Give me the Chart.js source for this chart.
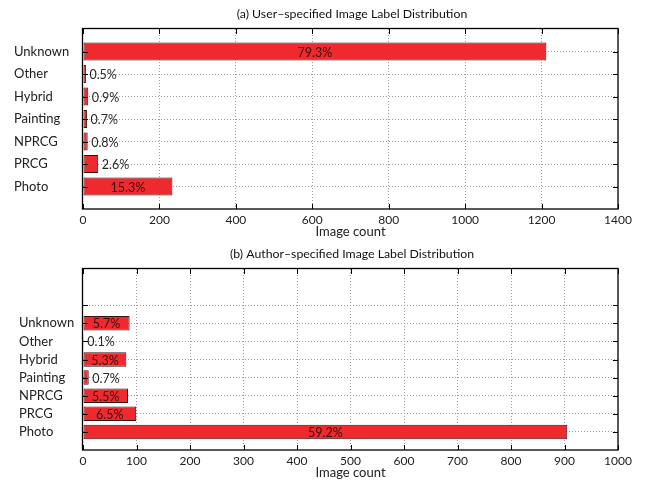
<!DOCTYPE html>
<html>
<head>
<meta charset="utf-8">
<script src="https://cdn.jsdelivr.net/npm/chart.js@4/dist/chart.umd.min.js"></script>
<style>
  html, body { margin: 0; padding: 0; background: #fff; }
  #wrap { position: relative; width: 648px; height: 484px; }
  .panel { position: absolute; left: 0; width: 648px; height: 242px; }
</style>
</head>
<body>
<div id="wrap">
  <div class="panel" style="top:0px"><canvas id="userChart" width="648" height="242"></canvas></div>
  <div class="panel" style="top:241px"><canvas id="authorChart" width="648" height="242"></canvas></div>
</div>
<script>
// Image label categories, listed top to bottom
const categories = ['Unknown', 'Other', 'Hybrid', 'Painting', 'NPRCG', 'PRCG', 'Photo'];
// Share of images per label (%)
const userPercent = [79.3, 0.5, 0.9, 0.7, 0.8, 2.6, 15.3];
const authorPercent = [5.7, 0.1, 5.3, 0.7, 5.5, 6.5, 59.2];
// Number of images in the collection
const totalImages = 1529;
// Count axis ticks
const userTicks = [0, 200, 400, 600, 800, 1000, 1200, 1400];
const authorTicks = [0, 100, 200, 300, 400, 500, 600, 700, 800, 900, 1000];

const FONT = 'Lato';
const GRID = '#9c9c9c';

function makePanel(canvasId, opt) {
  const labels = [...Array(opt.blankAbove).fill(''), ...categories, ''];
  const counts = opt.percent.map(p => p / 100 * totalImages);
  const data = [...Array(opt.blankAbove).fill(null), ...counts, null];
  const pctText = [...Array(opt.blankAbove).fill(null), ...opt.percent.map(p => p.toFixed(1) + '%'), null];
  const firstGrid = opt.blankAbove - opt.griddedBlank;
  const lastGrid = labels.length - 2;
  const ticks = opt.ticks;

  const panelPlugin = {
    id: 'panelDecor',
    afterDatasetsDraw(chart) {
      const ctx = chart.ctx;
      const meta = chart.getDatasetMeta(0);
      ctx.save();
      ctx.font = '12.5px ' + FONT;
      ctx.textBaseline = 'middle';
      meta.data.forEach((bar, i) => {
        const txt = pctText[i];
        if (txt == null) return;
        const left = bar.base, right = bar.x;
        const w = ctx.measureText(txt).width;
        if (w + 6 < right - left) {
          ctx.fillStyle = '#3a0c0c';
          ctx.textAlign = 'center';
          ctx.fillText(txt, (left + right) / 2, bar.y + 1);
        } else {
          ctx.fillStyle = '#262626';
          ctx.textAlign = 'left';
          ctx.fillText(txt, right + 3.5, bar.y + 1);
        }
      });
      ctx.restore();
    },
    afterDraw(chart) {
      const ctx = chart.ctx;
      const a = chart.chartArea;
      const xs = chart.scales.x, ys = chart.scales.y;
      ctx.save();
      // inward tick marks
      ctx.strokeStyle = '#000';
      ctx.lineWidth = 1;
      ctx.beginPath();
      ticks.forEach(v => {
        const px = Math.round(xs.getPixelForValue(v)) + 0.5;
        ctx.moveTo(px, a.bottom); ctx.lineTo(px, a.bottom - 5);
        ctx.moveTo(px, a.top); ctx.lineTo(px, a.top + 5);
      });
      for (let i = firstGrid; i <= lastGrid; i++) {
        const py = Math.round(ys.getPixelForValue(i)) + 0.5;
        ctx.moveTo(a.left, py); ctx.lineTo(a.left + 5, py);
        ctx.moveTo(a.right, py); ctx.lineTo(a.right - 5, py);
      }
      ctx.stroke();
      // axes box
      ctx.lineWidth = 1.3;
      ctx.strokeRect(Math.round(a.left) - 0.5, Math.round(a.top) - 0.5,
                     Math.round(a.right - a.left) + 0.5, Math.round(a.bottom - a.top) + 0.5);
      // panel title
      ctx.fillStyle = '#111';
      ctx.font = '12.3px ' + FONT;
      ctx.textAlign = 'center';
      ctx.textBaseline = 'middle';
      ctx.fillText(opt.title, (a.left + a.right) / 2 + 1.5, opt.titleY);
      ctx.restore();
    }
  };

  return new Chart(document.getElementById(canvasId), {
    type: 'bar',
    data: {
      labels: labels,
      datasets: [{
        data: data,
        backgroundColor: '#ee2a2f',
        borderColor: '#3a1212',
        borderWidth: 1,
        borderSkipped: false,
        categoryPercentage: 1,
        barPercentage: 0.8
      }]
    },
    options: {
      indexAxis: 'y',
      responsive: false,
      animation: false,
      devicePixelRatio: 1,
      layout: { padding: { left: opt.leftPad, right: 30, top: opt.plotTop, bottom: 0 } },
      plugins: { legend: { display: false }, tooltip: { enabled: false }, title: { display: false } },
      scales: {
        x: {
          type: 'linear',
          min: ticks[0],
          max: ticks[ticks.length - 1],
          afterBuildTicks: s => { s.ticks = ticks.map(v => ({ value: v })); },
          afterFit: s => { s.height = 242 - opt.plotBottom; },
          grid: {
            drawTicks: false,
            lineWidth: 1,
            color: c => (c.index > 0 && c.index < ticks.length - 1) ? GRID : 'rgba(0,0,0,0)'
          },
          border: { display: false, dash: [1, 2] },
          ticks: {
            padding: 4,
            color: '#222',
            font: { family: FONT, size: 12 },
            maxRotation: 0,
            autoSkip: false,
            callback: v => String(v)
          },
          title: {
            display: true,
            text: 'Image count',
            color: '#222',
            font: { family: FONT, size: 13 },
            padding: { top: 0, bottom: 2 }
          }
        },
        y: {
          type: 'category',
          offset: false,
          afterFit: s => { s.width = 83 - opt.leftPad; },
          grid: {
            offset: false,
            drawTicks: false,
            lineWidth: 1,
            color: c => (c.index >= firstGrid && c.index <= lastGrid) ? GRID : 'rgba(0,0,0,0)'
          },
          border: { display: false, dash: [1, 2] },
          ticks: {
            autoSkip: false,
            crossAlign: 'far',
            color: '#222',
            font: { family: FONT, size: 13 }
          }
        }
      }
    },
    plugins: [panelPlugin]
  });
}

makePanel('userChart', {
  title: '(a) User\u2013specified Image Label Distribution',
  percent: userPercent,
  ticks: userTicks,
  blankAbove: 1,
  griddedBlank: 0,
  leftPad: 14,
  plotTop: 29,
  plotBottom: 209,
  titleY: 14
});

makePanel('authorChart', {
  title: '(b) Author\u2013specified Image Label Distribution',
  percent: authorPercent,
  ticks: authorTicks,
  blankAbove: 3,
  griddedBlank: 1,
  leftPad: 19,
  plotTop: 28,
  plotBottom: 209,
  titleY: 13.5
});
</script>
</body>
</html>
